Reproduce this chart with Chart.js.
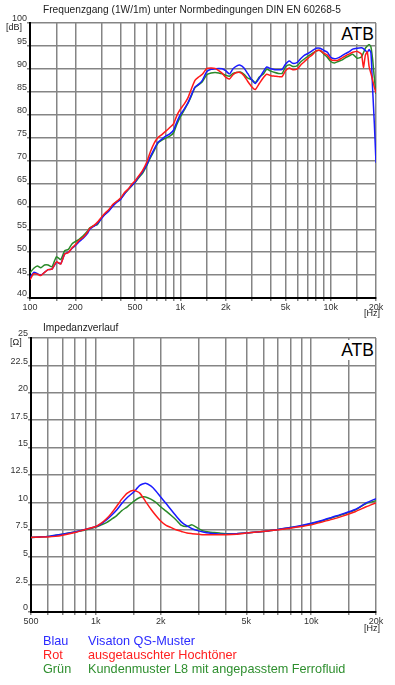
<!DOCTYPE html>
<html>
<head>
<meta charset="utf-8">
<script src="https://cdn.jsdelivr.net/npm/chart.js@4.4.1/dist/chart.umd.min.js"></script>
<style>
  body { margin: 0; background: #fff; font-family: "Liberation Sans", Arial, sans-serif; }
  #wrap { position: relative; width: 395px; height: 685px; overflow: hidden; }
  canvas { position: absolute; left: 0; }
  .t { position: absolute; white-space: nowrap; line-height: 1; color: #222; }
  .atb { position: absolute; left: 338px; width: 36px; height: 20px; line-height: 20px; background: #fff;
         font-size: 17.5px; text-align: right; color: #000; padding-right: 1px; }
  .lg { position: absolute; white-space: nowrap; line-height: 1; font-size: 12.7px; }
</style>
</head>
<body>
<div id="wrap">
  <canvas id="spl" width="395" height="320" style="top:0"></canvas>
  <canvas id="imp" width="395" height="310" style="top:320px"></canvas>

  <div class="t" style="left:43px;top:5px;font-size:10.2px">Frequenzgang (1W/1m) unter Normbedingungen DIN EN 60268-5</div>
  <div class="t" style="left:6px;top:22.5px;font-size:9px">[dB]</div>
  <div class="t" style="left:364px;top:308.5px;font-size:9px">[Hz]</div>
  <div class="atb" style="top:24px">ATB</div>

  <div class="t" style="left:43px;top:322.5px;font-size:10.2px">Impedanzverlauf</div>
  <div class="t" style="left:10px;top:337.5px;font-size:9px">[Ω]</div>
  <div class="t" style="left:364px;top:624px;font-size:9px">[Hz]</div>
  <div class="atb" style="top:340px">ATB</div>

  <div class="lg" style="left:43px;top:635px;color:#2b2bff">Blau</div>
  <div class="lg" style="left:88px;top:635px;color:#2b2bff">Visaton QS-Muster</div>
  <div class="lg" style="left:43px;top:649px;color:#ff2020">Rot</div>
  <div class="lg" style="left:88px;top:649px;color:#ff2020">ausgetauschter Hochtöner</div>
  <div class="lg" style="left:43px;top:663px;color:#2f8f2f">Grün</div>
  <div class="lg" style="left:88px;top:663px;color:#2f8f2f">Kundenmuster L8 mit angepasstem Ferrofluid</div>
</div>

<script>
// frequency response (dB)
const freqSpl = [
  100,106,112,118,125,132,140,150,160,170,
  180,190,200,212,225,240,250,265,280,300,
  315,335,355,375,400,425,450,475,500,530,
  560,600,630,670,710,750,800,850,900,950,
  1000,1060,1120,1180,1250,1320,1400,1500,1600,1700,
  1800,1900,2000,2120,2240,2360,2500,2650,2800,3000,
  3150,3350,3550,3750,4000,4250,4500,4750,5000,5300,
  5600,6000,6300,6700,7100,7500,8000,8500,9000,9500,
  10000,10600,11200,11800,12500,13200,14000,15000,16000,16500,
  17000,17500,18000,18500,19000,19500,20000
];
const splBlue = [
  44.5,45.6,45.3,45.0,45.6,46.2,46.3,47.8,47.5,49.6,
  50.0,50.8,51.4,52.3,53.0,54.0,55.0,55.6,56.2,57.4,
  58.2,59.0,60.0,60.8,61.5,62.7,63.7,64.5,65.3,66.5,
  67.5,69.2,70.8,72.5,74.0,74.6,75.3,75.8,76.6,78.5,
  80.0,81.2,82.5,84.2,86.0,86.6,87.5,89.4,89.9,90.0,
  90.1,90.0,89.6,88.9,90.0,90.6,90.8,90.2,89.0,87.5,
  86.8,88.0,89.3,90.4,90.0,89.8,89.8,89.9,91.0,91.7,
  91.2,91.4,92.2,93.0,93.4,93.9,94.5,94.5,94.0,93.6,
  92.5,92.2,92.4,92.8,93.3,93.7,94.3,94.5,94.6,94.4,
  94.0,93.6,94.2,93.5,85.5,78.0,69.5
];
const splRed = [
  44.0,45.3,45.2,44.9,45.6,46.2,46.3,47.9,47.4,49.6,
  49.9,50.9,51.6,52.6,53.2,54.3,55.2,55.8,56.5,57.7,
  58.5,59.3,60.4,61.0,61.8,63.0,63.8,64.8,65.6,66.7,
  67.8,69.8,71.8,73.8,75.0,75.6,76.4,77.2,78.0,79.9,
  81.2,82.3,83.6,85.5,87.5,88.2,88.8,90.1,90.2,90.1,
  89.6,89.0,88.2,87.8,88.7,89.2,89.2,88.5,87.3,86.0,
  85.5,86.8,88.0,88.8,88.5,88.4,88.3,88.3,89.6,90.2,
  89.8,90.0,90.8,91.6,92.4,93.0,93.9,94.0,93.4,93.0,
  92.0,91.8,91.9,92.3,92.8,93.2,93.6,93.8,93.2,90.3,
  93.0,93.7,90.5,89.0,87.5,86.0,84.8
];
const splGreen = [
  45.5,46.5,47.0,46.6,47.2,47.2,46.8,49.0,48.4,50.3,
  50.6,51.8,52.3,52.8,53.5,54.5,55.3,55.8,56.0,57.6,
  58.3,59.2,60.2,61.0,61.6,62.8,63.6,64.5,65.2,66.3,
  67.2,69.0,70.5,72.2,73.8,74.4,74.9,75.3,76.0,78.0,
  79.5,81.0,82.4,84.0,85.9,86.5,87.2,88.7,89.1,89.2,
  89.1,88.9,88.6,88.4,89.0,89.2,89.3,88.8,88.0,87.6,
  87.0,88.2,88.8,89.9,89.5,89.2,89.0,89.0,90.4,90.9,
  90.5,90.7,91.5,92.2,92.8,93.3,93.9,94.0,93.2,92.5,
  91.6,91.3,91.6,91.9,92.4,92.8,93.2,92.3,92.6,93.5,
  94.5,95.0,95.3,94.8,92.0,88.0,84.5
];

// impedance (ohm)
const freqImp = [
  500,550,600,650,700,800,900,1000,1060,1120,
  1180,1250,1320,1400,1500,1600,1700,1800,1900,2000,
  2120,2240,2360,2500,2650,2800,3000,3150,3350,3550,
  3750,4000,4500,5000,5600,6300,7100,8000,9000,10000,
  11200,12500,14000,16000,18000,20000
];
const impBlue = [
  6.8,6.85,6.9,7.0,7.1,7.3,7.55,7.8,8.05,8.4,
  8.8,9.3,9.9,10.45,10.95,11.55,11.75,11.5,11.05,10.5,
  9.9,9.3,8.75,8.2,7.85,7.6,7.4,7.3,7.2,7.15,
  7.1,7.1,7.15,7.2,7.3,7.4,7.55,7.7,7.9,8.1,
  8.35,8.65,8.95,9.35,9.95,10.35
];
const impRed = [
  6.8,6.85,6.85,6.9,7.0,7.25,7.55,7.8,8.1,8.5,
  9.0,9.65,10.3,10.85,11.1,10.85,10.1,9.4,8.8,8.3,
  7.9,7.7,7.5,7.35,7.2,7.15,7.1,7.05,7.05,7.05,
  7.05,7.05,7.1,7.2,7.3,7.4,7.5,7.65,7.8,7.95,
  8.2,8.45,8.75,9.15,9.6,9.95
];
const impGreen = [
  6.8,6.85,6.9,7.0,7.1,7.3,7.5,7.75,7.95,8.15,
  8.45,8.8,9.25,9.6,10.1,10.45,10.5,10.3,10.0,9.6,
  9.2,8.8,8.4,7.9,7.8,7.95,7.6,7.4,7.3,7.25,
  7.2,7.15,7.15,7.2,7.3,7.4,7.55,7.7,7.85,8.05,
  8.3,8.6,8.9,9.3,9.9,10.15
];

// grid lines and labels on the frequency axes
const gridSpl = [100,150,200,300,400,500,600,700,800,900,1000,1500,2000,3000,4000,5000,6000,7000,8000,9000,10000,15000,20000];
const gridImp = [500,600,700,800,900,1000,1500,2000,3000,4000,5000,6000,7000,8000,9000,10000,15000,20000];
const freqLabels = { 100: '100', 200: '200', 500: '500', 1000: '1k', 2000: '2k', 5000: '5k', 10000: '10k', 20000: '20k' };

Chart.defaults.font.family = '"Liberation Sans", Arial, sans-serif';
Chart.defaults.font.size = 9;
Chart.defaults.color = '#333';

const pts = (xs, ys) => xs.map((x, i) => ({ x: x, y: ys[i] }));

function line(label, data, color) {
  return { label, data, borderColor: color, borderWidth: 1.5, pointRadius: 0, tension: 0.2, fill: false };
}

function makeChart(canvas, datasets, xGrid, xMin, yMin, yMax, yStep, left, top, xHeight) {
  return new Chart(canvas.getContext('2d'), {
    type: 'line',
    data: { datasets },
    options: {
      responsive: false,
      animation: false,
      devicePixelRatio: 1,
      layout: { autoPadding: false, padding: { left: 0, right: 19, top: top, bottom: 0 } },
      plugins: { legend: { display: false }, tooltip: { enabled: false } },
      scales: {
        x: {
          type: 'logarithmic',
          min: xMin, max: 20000,
          afterBuildTicks: (s) => { s.ticks = xGrid.map(v => ({ value: v })); },
          afterFit: (s) => { s.height = xHeight; },
          ticks: {
            autoSkip: false, maxRotation: 0, minRotation: 0, padding: 1,
            callback: (v) => freqLabels[v] || ''
          },
          grid: { color: '#858585', lineWidth: 1.5, tickLength: 3 },
          border: { color: '#000', width: 2 }
        },
        y: {
          min: yMin, max: yMax,
          afterFit: (s) => { s.width = left; },
          ticks: { stepSize: yStep, padding: 0, labelOffset: -4, callback: (v) => String(v) },
          grid: { color: '#858585', lineWidth: 1.5, tickLength: 3 },
          border: { color: '#000', width: 2 }
        }
      }
    }
  });
}

makeChart(document.getElementById('spl'), [
  line('Rot', pts(freqSpl, splRed), '#ff1a1a'),
  line('Blau', pts(freqSpl, splBlue), '#1a1aff'),
  line('Grün', pts(freqSpl, splGreen), '#2a8a2a')
], gridSpl, 100, 40, 100, 5, 30, 23, 22);

makeChart(document.getElementById('imp'), [
  line('Rot', pts(freqImp, impRed), '#ff1a1a'),
  line('Blau', pts(freqImp, impBlue), '#1a1aff'),
  line('Grün', pts(freqImp, impGreen), '#2a8a2a')
], gridImp, 500, 0, 25, 2.5, 31, 18, 18);
</script>
</body>
</html>
